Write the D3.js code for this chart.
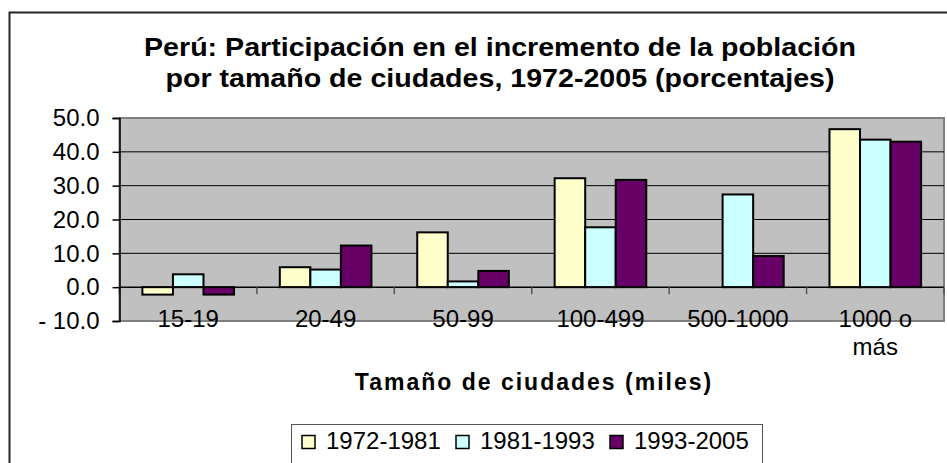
<!DOCTYPE html>
<html>
<head>
<meta charset="utf-8">
<script src="https://cdn.jsdelivr.net/npm/d3@7"></script>
<style>
  body { margin: 0; background: #fff; }
  text { font-family: Arial, "Liberation Sans", sans-serif; fill: #000; }
</style>
</head>
<body>
<div id="chart"></div>
<script>
const categories = ["15-19", "20-49", "50-99", "100-499", "500-1000", "1000 o|más"];
const seriesNames = ["1972-1981", "1981-1993", "1993-2005"];
const values7281 = [-2.2, 5.9, 16.2, 32.2, null, 46.7];
const values8193 = [3.8, 5.2, 1.7, 17.7, 27.4, 43.6];
const values9305 = [-2.2, 12.3, 4.8, 31.7, 9.2, 43.0];
const yTicks = [-10, 0, 10, 20, 30, 40, 50];
const colors = ["#FFFFCC", "#CCFFFF", "#660066"];

const allSeries = [values7281, values8193, values9305];

const width = 947, height = 463;
const plot = {left: 119.5, right: 944, top: 118, bottom: 321};

const svg = d3.select("#chart")
    .append("svg")
    .attr("width", width)
    .attr("height", height);

// outer chart border (runs off the window right and bottom)
svg.append("rect")
    .attr("x", 9.5).attr("y", 12.5)
    .attr("width", 1100).attr("height", 600)
    .attr("fill", "#fff")
    .attr("stroke", "#262626")
    .attr("stroke-width", 2);

// title, a bit stretched sideways like the original picture
const title = svg.append("text")
    .attr("transform", "translate(500,0) scale(1.1,1)")
    .attr("text-anchor", "middle")
    .style("font-weight", "bold")
    .style("font-size", "26px");
title.append("tspan").attr("x", 0).attr("y", 56)
    .text("Perú: Participación en el incremento de la población");
title.append("tspan").attr("x", 0).attr("y", 87)
    .text("por tamaño de ciudades, 1972-2005 (porcentajes)");

const x = d3.scaleBand()
    .domain(categories)
    .range([plot.left, plot.right]);

const xInner = d3.scaleBand()
    .domain(seriesNames)
    .range([0, x.bandwidth()])
    .paddingInner(0)
    .paddingOuter(0.75);

const y = d3.scaleLinear()
    .domain([-10, 50])
    .range([plot.bottom, plot.top]);

// plot area
svg.append("rect")
    .attr("x", plot.left).attr("y", plot.top)
    .attr("width", plot.right - plot.left)
    .attr("height", plot.bottom - plot.top)
    .attr("fill", "#C0C0C0")
    .attr("stroke", "#808080")
    .attr("stroke-width", 2);

// gridlines
svg.append("g")
    .selectAll("line")
    .data(yTicks.filter(d => d > 0 && d < 50))
    .enter().append("line")
    .attr("x1", plot.left).attr("x2", plot.right)
    .attr("y1", d => y(d)).attr("y2", d => y(d))
    .attr("stroke", "#000")
    .attr("stroke-width", 1);

// bars
const rows = categories.map((c, i) => ({cat: c, vals: allSeries.map((s, j) => ({name: seriesNames[j], v: s[i], k: j}))}));

svg.append("g")
    .selectAll("g")
    .data(rows)
    .enter().append("g")
    .attr("transform", d => "translate(" + x(d.cat) + ",0)")
    .selectAll("rect")
    .data(d => d.vals.filter(e => e.v !== null))
    .enter().append("rect")
    .attr("x", d => xInner(d.name))
    .attr("y", d => y(Math.max(0, d.v)))
    .attr("width", xInner.bandwidth())
    .attr("height", d => Math.abs(y(d.v) - y(0)))
    .attr("fill", d => colors[d.k])
    .attr("stroke", "#000")
    .attr("stroke-width", 2);

// category axis along zero
svg.append("line")
    .attr("x1", plot.left).attr("x2", plot.right)
    .attr("y1", y(0)).attr("y2", y(0))
    .attr("stroke", "#000").attr("stroke-width", 1.5);

const bounds = categories.map(c => x(c)).concat([plot.right]);
svg.append("g")
    .selectAll("line")
    .data(bounds)
    .enter().append("line")
    .attr("x1", d => d).attr("x2", d => d)
    .attr("y1", y(0)).attr("y2", y(0) + 7)
    .attr("stroke", "#555").attr("stroke-width", 1.5);

// y axis
const yAxis = svg.append("g")
    .attr("transform", "translate(" + plot.left + ",0)")
    .call(d3.axisLeft(y)
        .tickValues(yTicks)
        .tickSize(7)
        .tickPadding(13)
        .tickFormat(d => d < 0 ? "- " + (-d).toFixed(1) : d.toFixed(1)));
yAxis.select(".domain").attr("stroke", "#000").attr("stroke-width", 1.5);
yAxis.selectAll(".tick line").attr("stroke", "#000").attr("stroke-width", 1.5);
yAxis.selectAll("text")
    .style("font-size", "24px")
    .style("font-family", "Arial, 'Liberation Sans', sans-serif")
    .attr("fill", "#000");

// category labels
const xLabels = svg.append("g")
    .selectAll("text")
    .data(categories)
    .enter().append("text")
    .attr("text-anchor", "middle")
    .style("font-size", "24px");
xLabels.each(function(d) {
    const parts = d.split("|");
    d3.select(this).selectAll("tspan")
        .data(parts)
        .enter().append("tspan")
        .attr("x", x(d) + x.bandwidth() / 2)
        .attr("y", (p, i) => 327 + i * 28)
        .text(p => p);
});

// axis title
svg.append("text")
    .attr("x", 534).attr("y", 390)
    .attr("text-anchor", "middle")
    .style("font-weight", "bold")
    .style("font-size", "23px")
    .style("letter-spacing", "2px")
    .text("Tamaño de ciudades (miles)");

// legend
const legend = svg.append("g");
legend.append("rect")
    .attr("x", 291.5).attr("y", 424.5)
    .attr("width", 471).attr("height", 80)
    .attr("fill", "#fff")
    .attr("stroke", "#555").attr("stroke-width", 1);

const legendItems = legend.selectAll("g")
    .data(seriesNames)
    .enter().append("g")
    .attr("transform", (d, i) => "translate(" + (302 + i * 154) + ",0)");
legendItems.append("rect")
    .attr("x", 0).attr("y", 435.5)
    .attr("width", 13).attr("height", 13)
    .attr("fill", (d, i) => colors[i])
    .attr("stroke", "#000").attr("stroke-width", 1.5);
legendItems.append("text")
    .attr("x", 24).attr("y", 449)
    .style("font-size", "24px")
    .text(d => d);
</script>
</body>
</html>
